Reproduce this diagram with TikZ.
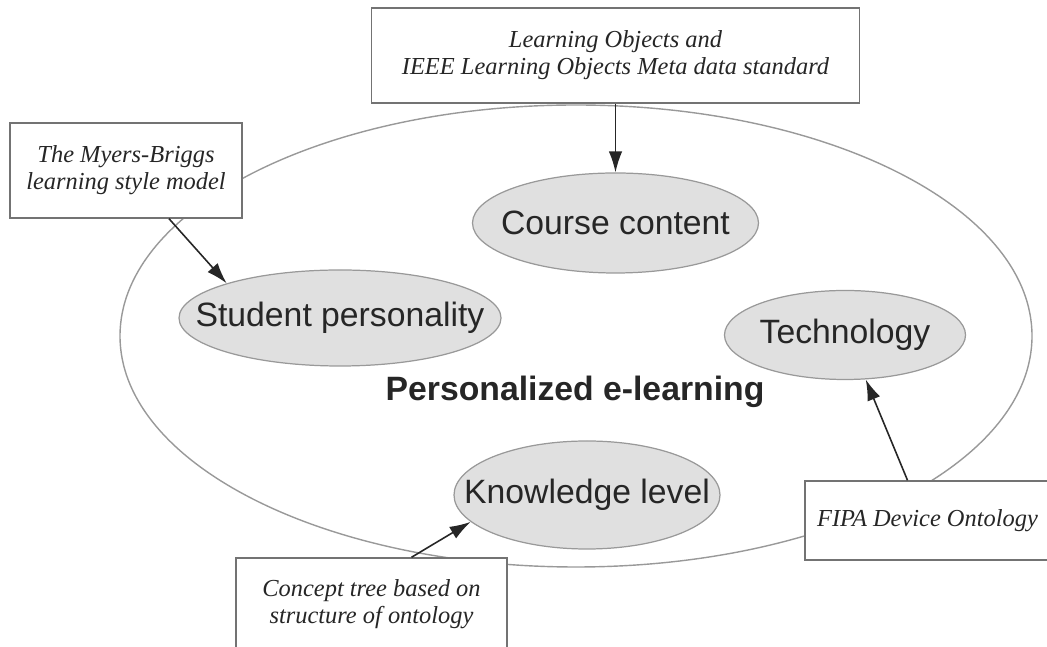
\documentclass[tikz,border=0pt]{standalone}
\usepackage{fontspec}
\setmainfont{Liberation Serif}
\setsansfont{Liberation Sans}
\usetikzlibrary{shapes.geometric,arrows.meta}

\begin{document}
\begin{tikzpicture}[
  every node/.style={text=black!85},
  src/.style={draw=black!55, line width=0.8pt, fill=white, align=center, inner sep=0pt,
    font=\fontsize{13.9}{15.5}\selectfont\itshape},
  topic/.style={ellipse, draw=black!40, line width=0.7pt, fill=black!12, inner xsep=-1.2cm, inner ysep=0pt,
    font=\sffamily\fontsize{19.2}{22}\selectfont},
  arrow/.style={-{Latex[length=0.42cm,width=0.27cm]}, line width=0.9pt, black!85}
]
\useasboundingbox (0,0) rectangle (20.94,12.94);

% Outer ring
\node[ellipse, draw=black!40, line width=0.8pt, minimum width=18.24cm, minimum height=9.24cm] (elearn) at (11.52,6.22) {};
\node[font=\sffamily\bfseries\fontsize{19.2}{22}\selectfont] (title) at (11.5,5.1) {Personalized e-learning};

% Topics
\node[topic, minimum width=5.72cm, minimum height=2cm] (course) at (12.31,8.48) {Course content};
\node[topic, minimum width=6.44cm, minimum height=1.92cm] (student) at (6.8,6.58) {Student personality};
\node[topic, minimum width=4.82cm, minimum height=1.78cm] (tech) at (16.9,6.24) {Technology};
\node[topic, minimum width=5.32cm, minimum height=2.16cm] (knowledge) at (11.74,3.04) {Knowledge level};

% Sources
\node[src, minimum width=9.76cm, minimum height=1.9cm] (lom) at (12.31,11.83) {Learning Objects and\\IEEE Learning Objects Meta data standard};
\node[src, minimum width=4.64cm, minimum height=1.9cm] (myers) at (2.52,9.53) {The Myers-Briggs\\learning style model};
\node[src, minimum width=5.42cm, minimum height=1.84cm] (concept) at (7.43,0.86) {Concept tree based on\\structure of ontology};
\node[src, minimum width=4.9cm, minimum height=1.58cm] (fipa) at (18.55,2.53) {FIPA Device Ontology};

% Arrows
\draw[arrow] (lom) -- (course);
\draw[arrow] (myers) -- (student.163);
\draw[arrow] ([xshift=0.8cm]concept.north) -- (knowledge.193);
\draw[arrow] ([xshift=-0.4cm]fipa.north) -- (tech.295);

\end{tikzpicture}
\end{document}
